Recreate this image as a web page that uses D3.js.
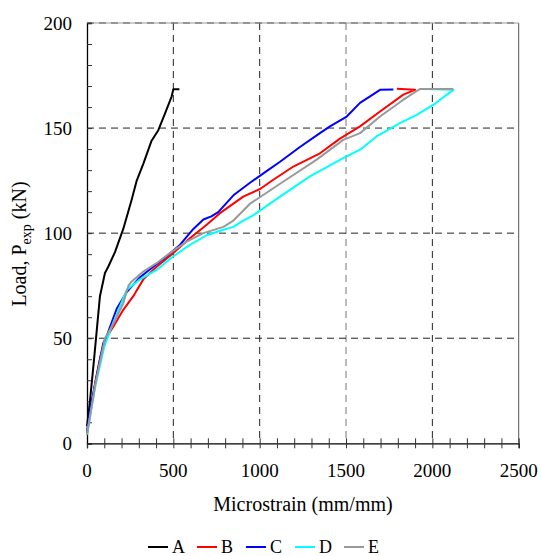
<!DOCTYPE html>
<html>
<head>
<meta charset="utf-8">
<script src="https://cdn.jsdelivr.net/npm/d3@7"></script>
<style>
  body { margin: 0; background: #fff; }
  svg text { font-family: "Liberation Serif", "DejaVu Serif", serif; }
</style>
</head>
<body>
<svg id="grafico" width="541" height="556"></svg>
<script>
// Datos: [microdeformacion, carga kN]
var serieA = [[0,8],[17,20],[42,41],[75,70],[104,81],[123,84],[162,91],[210,102],[259,116],[288,125],[326,133],[374,144],[413,149],[452,157],[490,165],[500,168.5],[535,168.5]];
var serieB = [[0,5],[20,15],[50,30],[80,42],[110,50],[152,55.5],[210,63.5],[268,70],[326,78],[403,84],[500,90.5],[596,97.6],[693,104],[770,109.5],[905,117.4],[1002,121],[1079,125.4],[1195,131.7],[1349,138],[1465,145],[1581,150.8],[1697,157.9],[1832,165.9],[1900,168.2],[1795,168.7]];
var serieC = [[0,5],[20,17],[56,32],[94,47.6],[114,51],[172,64],[230,72],[307,79],[384,84],[461,89],[538,94.4],[616,102],[674,106.5],[720,108],[760,110],[848,118],[944,124],[1040,129.5],[1118,134],[1233,141],[1349,147.6],[1407,150.8],[1504,155.5],[1581,162],[1697,168.2],[1774,168.4]];
var serieD = [[0,4],[20,14],[50,28],[100,46],[150,57],[230,73],[307,78],[403,82.5],[500,89],[596,94.4],[693,99],[790,101.6],[848,103],[905,106],[963,108.5],[1118,117.4],[1291,127],[1484,135.7],[1581,139.7],[1677,146],[1812,152.4],[1909,156.3],[2005,161],[2121,168.2],[1950,168.6]];
var serieE = [[0,4],[20,14],[50,29],[104,50],[160,58],[210,66.6],[240,75],[259,77],[326,81.7],[403,85.7],[480,90.5],[577,96],[674,100],[790,103],[848,106],[944,114],[1118,123.5],[1330,135],[1484,144.4],[1581,147.6],[1697,155.5],[1832,163.5],[1928,168.6],[2121,168.6]];

var nombres = ["A", "B", "C", "D", "E"];
var colores = ["#000000", "#ff0000", "#0000ff", "#00ffff", "#999999"];
var series = [serieA, serieB, serieC, serieD, serieE];

var ticksX = [0, 500, 1000, 1500, 2000, 2500];
var ticksY = [0, 50, 100, 150, 200];

// Area del grafico
var izq = 87, der = 518.7, arriba = 23, abajo = 443.3;

var svg = d3.select("#grafico");

var x = d3.scaleLinear().domain([0, 2500]).range([izq, der]);
var y = d3.scaleLinear().domain([0, 200]).range([abajo, arriba]);

// Rejilla discontinua
svg.selectAll(".rejillaX")
  .data(ticksX.slice(1))
  .enter().append("line")
  .attr("x1", d => x(d)).attr("x2", d => x(d))
  .attr("y1", arriba).attr("y2", abajo)
  .attr("stroke", d => d == 2500 ? "#555" : (d == 1500 ? "#777" : "#222"))
  .attr("stroke-width", 1)
  .attr("stroke-dasharray", d => d == 2500 ? null : "7,5");

svg.selectAll(".rejillaY")
  .data(ticksY.slice(1))
  .enter().append("line")
  .attr("x1", izq).attr("x2", der)
  .attr("y1", d => y(d)).attr("y2", d => y(d))
  .attr("stroke", "#222")
  .attr("stroke-width", 1)
  .attr("stroke-dasharray", "7,5");

// borde superior gris bajo los guiones
svg.append("line")
  .attr("x1", izq).attr("x2", der)
  .attr("y1", arriba).attr("y2", arriba)
  .attr("stroke", "#999").attr("stroke-width", 1);

// Ejes: marcas menores
var ejeX = svg.append("g").attr("transform", "translate(0," + abajo + ")")
  .call(d3.axisBottom(x).tickValues(d3.range(0, 2501, 100)).tickSize(5).tickFormat(""));
ejeX.selectAll(".tick line").attr("y1", -5).attr("y2", 5).attr("stroke", "#333");
ejeX.select(".domain").attr("stroke", "#000").attr("stroke-width", 1.3);

var ejeY = svg.append("g").attr("transform", "translate(" + izq + ",0)")
  .call(d3.axisLeft(y).tickValues(d3.range(0, 201, 10)).tickSize(-5).tickFormat(""));
ejeY.selectAll(".tick line").attr("stroke", "#333");
ejeY.select(".domain").attr("stroke", "#000").attr("stroke-width", 1.3);

// Etiquetas de los ejes
svg.selectAll(".etqX")
  .data(ticksX)
  .enter().append("text")
  .attr("x", d => x(d))
  .attr("y", 477)
  .attr("text-anchor", "middle")
  .style("font-size", "19px")
  .text(d => d);

svg.selectAll(".etqY")
  .data(ticksY)
  .enter().append("text")
  .attr("x", 72)
  .attr("y", d => y(d) + 6.5)
  .attr("text-anchor", "end")
  .style("font-size", "19px")
  .text(d => d);

svg.append("text")
  .attr("x", 303)
  .attr("y", 511)
  .attr("text-anchor", "middle")
  .style("font-size", "20px")
  .text("Microstrain (mm/mm)");

var tituloY = svg.append("text")
  .attr("transform", "translate(26,244) rotate(-90)")
  .attr("text-anchor", "middle")
  .style("font-size", "20px");
tituloY.append("tspan").text("Load, P");
tituloY.append("tspan").attr("dy", 5).style("font-size", "14px").text("exp");
tituloY.append("tspan").attr("dy", -5).text(" (kN)");

// Curvas
var linea = d3.line().x(d => x(d[0])).y(d => y(d[1])).curve(d3.curveLinear);

svg.selectAll(".curva")
  .data(series)
  .enter().append("path")
  .attr("class", "curva")
  .attr("d", linea)
  .attr("fill", "none")
  .attr("stroke", (d, i) => colores[i])
  .attr("stroke-width", 2)
  .attr("stroke-linejoin", "round");

// Leyenda
var leyenda = svg.selectAll(".leyenda")
  .data(nombres)
  .enter().append("g")
  .attr("transform", (d, i) => "translate(" + (148 + i * 49) + ",547)");
leyenda.append("line")
  .attr("x1", 0).attr("x2", 20)
  .attr("y1", 0).attr("y2", 0)
  .attr("stroke", (d, i) => colores[i])
  .attr("stroke-width", 2);
leyenda.append("text")
  .attr("x", 24)
  .attr("y", 6)
  .style("font-size", "18px")
  .text(d => d);
</script>
</body>
</html>
